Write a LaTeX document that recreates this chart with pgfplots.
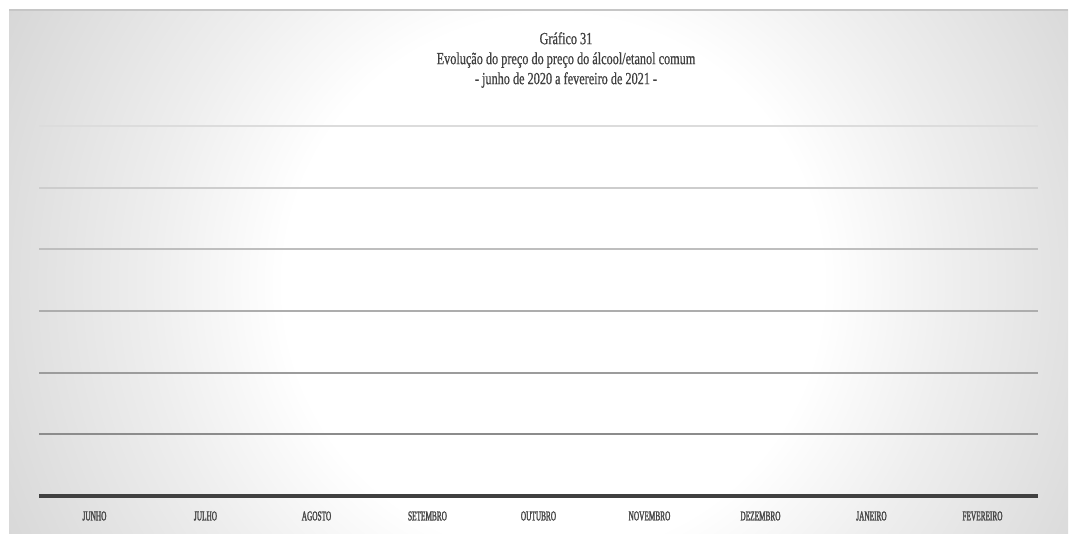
\documentclass[border=0pt]{standalone}
\usepackage{pgfplots}
\pgfplotsset{compat=1.18}
\usepackage{fontspec}
\setmainfont{Liberation Serif}[FakeStretch=0.72, FakeBold=0.7]
\newfontfamily\lblfont{Liberation Serif}[FakeStretch=0.54, FakeBold=1.8]
\definecolor{bgA}{HTML}{FFFFFF}
\definecolor{bgB}{HTML}{EEEEEE}
\definecolor{bgC}{HTML}{C6C6C6}
\definecolor{txt}{HTML}{404040}
\definecolor{lbl}{HTML}{474747}
\definecolor{axc}{HTML}{404040}
\definecolor{g1}{HTML}{8C8C8C}
\definecolor{g2}{HTML}{9C9C9C}
\definecolor{g3}{HTML}{ADADAD}
\definecolor{g4}{HTML}{BEBEBE}
\definecolor{g5}{HTML}{CDCDCD}
\definecolor{g6}{HTML}{DCDCDC}
\pgfdeclareradialshading{bgshade}{\pgfpoint{0bp}{0bp}}{color(0bp)=(bgA); color(12bp)=(bgA); color(18bp)=(bgB); color(34bp)=(bgC); color(50bp)=(bgC)}
\begin{document}
\begin{tikzpicture}[x=1pt,y=1pt]
\fill[white] (0,0) rectangle (1072,534);
\begin{scope}
\clip (9,0) rectangle (1068,524);
\shade[shading=bgshade] (553-560,250-560) rectangle (553+560,250+560);
\end{scope}
\draw[gray!45, line width=1.5pt] (9,524) -- (1068,524);
\node[align=center, text=txt, font=\fontsize{17}{20}\selectfont] at (566,474)
  {Gráfico 31\\Evolução do preço do preço do álcool/etanol comum\\- junho de 2020 a fevereiro de 2021 -};
\begin{axis}[
  at={(39pt,38pt)}, anchor=south west,
  scale only axis, width=999pt, height=370pt,
  xmin=-0.5, xmax=8.5, ymin=0, ymax=6,
  axis y line=none,
  axis x line*=bottom,
  x axis line style={line width=4.5pt, color=axc},
  xtick={0,...,8},
  xticklabels={JUNHO,JULHO,AGOSTO,SETEMBRO,OUTUBRO,NOVEMBRO,DEZEMBRO,JANEIRO,FEVEREIRO},
  major tick length=0pt,
  xticklabel style={anchor=center, yshift=-20pt, text=lbl, font=\lblfont\fontsize{13.5}{14}\selectfont},
  clip=false,
]
\draw[g1, line width=1.8pt] (axis cs:-0.5,1) -- (axis cs:8.5,1);
\draw[g2, line width=1.8pt] (axis cs:-0.5,2) -- (axis cs:8.5,2);
\draw[g3, line width=1.8pt] (axis cs:-0.5,3) -- (axis cs:8.5,3);
\draw[g4, line width=1.8pt] (axis cs:-0.5,4) -- (axis cs:8.5,4);
\draw[g5, line width=1.8pt] (axis cs:-0.5,5) -- (axis cs:8.5,5);
\draw[g6, line width=1.8pt] (axis cs:-0.5,6) -- (axis cs:8.5,6);
\end{axis}
\end{tikzpicture}
\end{document}
